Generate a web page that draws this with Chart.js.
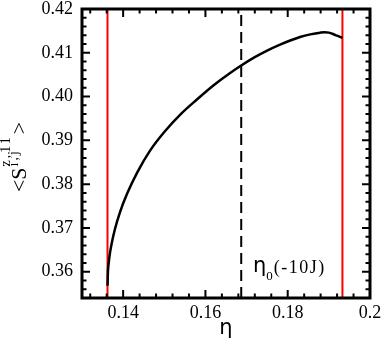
<!DOCTYPE html>
<html>
<head>
<meta charset="utf-8">
<script src="https://cdn.jsdelivr.net/npm/chart.js@4.4.0/dist/chart.umd.min.js"></script>
<style>
    html, body { margin: 0; padding: 0; background: #fff; }
    #wrap { width: 382px; height: 347px; }
</style>
</head>
<body>
<div id="wrap"><canvas id="grafico"></canvas></div>
<script>
// curva <S^{z,11}_{i,j}> em função de eta
const eta = [0.1362, 0.1363, 0.1365, 0.1368, 0.1372, 0.1380, 0.1392, 0.1410, 0.1435, 0.1465,
             0.1500, 0.1540, 0.1580, 0.1620, 0.1660, 0.1687, 0.1720, 0.1750, 0.1780, 0.1806,
             0.1830, 0.1855, 0.1879, 0.1890, 0.1900, 0.1910, 0.1920, 0.1933];
const szz = [0.3568, 0.3599, 0.3621, 0.3643, 0.3664, 0.3697, 0.3735, 0.3779, 0.3828, 0.3876,
             0.3919, 0.3960, 0.3994, 0.4026, 0.4054, 0.4071, 0.4090, 0.4105, 0.4118, 0.4128,
             0.4136, 0.4142, 0.4146, 0.4147, 0.4146, 0.4143, 0.4139, 0.4134];

const etaLimites = [0.1362, 0.1933];   // linhas vermelhas
const eta0 = 0.1687;                   // linha tracejada

const xRange = [0.13, 0.2];
const yRange = [0.354, 0.42];
const xTicks = [0.14, 0.16, 0.18, 0.2];
const yTicks = [0.36, 0.37, 0.38, 0.39, 0.40, 0.41, 0.42];

const serif = 'Liberation Serif, Times New Roman, DejaVu Serif, serif';
const sans = 'DejaVu Sans, sans-serif';

function vertical(x, color, dash) {
    return {
        data: [{ x: x, y: yRange[0] }, { x: x, y: yRange[1] }],
        borderColor: color,
        borderWidth: 2,
        borderDash: dash || [],
        pointRadius: 0,
        order: 2
    };
}

// moldura com ticks para dentro nos quatro lados + textos
const moldura = {
    id: 'moldura',
    afterDraw(chart) {
        const { ctx, chartArea: a, scales: { x, y } } = chart;
        ctx.save();
        ctx.strokeStyle = '#000';
        ctx.lineWidth = 2;

        for (let i = -2; i <= 15; i++) {
            const px = x.getPixelForValue(0.14 + 0.004 * i);
            const len = i % 5 === 0 ? 8 : 4.5;
            ctx.beginPath();
            ctx.moveTo(px, a.bottom); ctx.lineTo(px, a.bottom - len);
            ctx.moveTo(px, a.top); ctx.lineTo(px, a.top + len);
            ctx.stroke();
        }
        for (let i = -3; i <= 30; i++) {
            const py = y.getPixelForValue(0.36 + 0.002 * i);
            const len = i % 5 === 0 ? 8 : 4.5;
            ctx.beginPath();
            ctx.moveTo(a.left, py); ctx.lineTo(a.left + len, py);
            ctx.moveTo(a.right, py); ctx.lineTo(a.right - len, py);
            ctx.stroke();
        }

        ctx.lineWidth = 3;
        ctx.strokeRect(a.left, a.top, a.right - a.left, a.bottom - a.top);

        ctx.fillStyle = '#000';
        ctx.textBaseline = 'alphabetic';

        // titulo do eixo x
        ctx.font = '21px ' + sans;
        ctx.textAlign = 'center';
        ctx.fillText('η', (a.left + a.right) / 2, 334);

        // anotacao eta_0(-10J)
        ctx.textAlign = 'left';
        let tx = 253;
        ctx.font = '21px ' + sans;
        ctx.fillText('η', tx, 272);
        tx += ctx.measureText('η').width;
        ctx.font = '13px ' + serif;
        ctx.fillText('0', tx, 280);
        tx += ctx.measureText('0').width + 1;
        ctx.font = '18px ' + serif;
        ctx.letterSpacing = '1.5px';
        ctx.fillText('(-10J)', tx, 273);
        ctx.letterSpacing = '0px';

        // titulo do eixo y: <S^{z,11}_{i,j}>
        ctx.translate(26, 157);
        ctx.rotate(-Math.PI / 2);
        const big = '22px ' + serif, small = '14px ' + serif;
        ctx.font = big;
        const wLt = ctx.measureText('<').width;
        const wS = ctx.measureText('S').width;
        const wGt = ctx.measureText('>').width;
        ctx.font = small;
        ctx.letterSpacing = '2px';
        const wSup = ctx.measureText('z,11').width;
        const wSub = ctx.measureText('i,j').width;
        const wScr = Math.max(wSup, wSub);
        const total = wLt + wS + 1 + wScr + 1 + wGt;
        let px = -total / 2;
        ctx.letterSpacing = '0px';
        ctx.font = big;
        ctx.fillText('<', px, 0); px += wLt;
        ctx.fillText('S', px, 0); px += wS + 1;
        ctx.font = small;
        ctx.letterSpacing = '2px';
        ctx.fillText('z,11', px, -16);
        ctx.fillText('i,j', px, -8);
        ctx.letterSpacing = '0px';
        px += wScr + 1;
        ctx.font = big;
        ctx.fillText('>', px, 0);

        ctx.restore();
    }
};

const ctx = document.getElementById('grafico');

new Chart(ctx, {
    type: 'line',
    data: {
        datasets: [
            {
                data: eta.map((e, i) => ({ x: e, y: szz[i] })),
                borderColor: '#000',
                borderWidth: 2.5,
                pointRadius: 0,
                cubicInterpolationMode: 'monotone',
                order: 1
            },
            vertical(etaLimites[0], '#ff0000'),
            vertical(etaLimites[1], '#ff0000'),
            vertical(eta0, '#000', [11, 6])
        ]
    },
    options: {
        responsive: true,
        maintainAspectRatio: false,
        animation: false,
        layout: { padding: { top: 9, right: 12, left: 0, bottom: 0 } },
        plugins: {
            legend: { display: false },
            tooltip: { enabled: false }
        },
        scales: {
            x: {
                type: 'linear',
                min: xRange[0],
                max: xRange[1],
                grid: { display: false, drawTicks: false },
                border: { display: false },
                afterBuildTicks: (s) => { s.ticks = xTicks.map(v => ({ value: v })); },
                afterFit: (s) => { s.height = 49; s.paddingLeft = 0; s.paddingRight = 0; },
                ticks: {
                    color: '#000',
                    padding: 4,
                    maxRotation: 0,
                    font: { family: serif, size: 18 },
                    callback: (v) => String(+v.toFixed(2))
                }
            },
            y: {
                min: yRange[0],
                max: yRange[1],
                grid: { display: false, drawTicks: false },
                border: { display: false },
                afterBuildTicks: (s) => { s.ticks = yTicks.map(v => ({ value: v })); },
                afterFit: (s) => { s.width = 82; s.paddingTop = 0; s.paddingBottom = 0; },
                ticks: {
                    color: '#000',
                    padding: 9,
                    font: { family: serif, size: 18 },
                    callback: (v) => v.toFixed(2)
                }
            }
        }
    },
    plugins: [moldura]
});
</script>
</body>
</html>
